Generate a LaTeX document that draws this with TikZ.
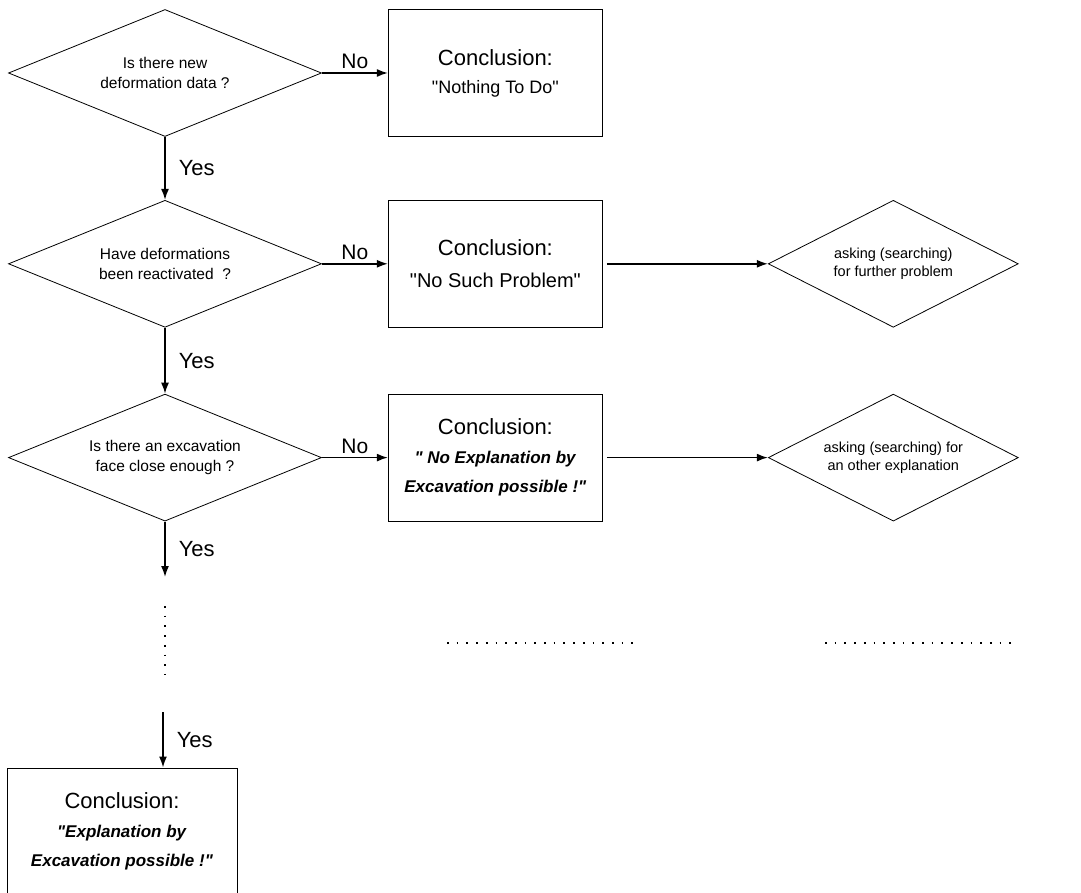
\documentclass[tikz,border=0pt]{standalone}
\usepackage{fontspec}
\setmainfont{Liberation Sans}
\usetikzlibrary{shapes.geometric,arrows.meta,positioning}
\tikzstyle{decision}=[diamond, aspect=2.46, draw, line width=0.8pt, minimum width=313pt, minimum height=127pt, inner sep=0pt, align=center, font=\fontsize{15.5}{20}\selectfont]
\tikzstyle{ask}=[decision, aspect=1.97, minimum width=250pt, font=\fontsize{14.5}{18}\selectfont]
\tikzstyle{block}=[draw, line width=1pt, minimum width=214pt, minimum height=127pt, inner sep=0pt, align=center]
\tikzstyle{arrow}=[line width=1.6pt,-{Latex[length=11pt,width=8pt]}]
\tikzstyle{dots}=[line width=1.7pt, dash pattern=on 1.7pt off 8pt]
\tikzstyle{lbl}=[font=\fontsize{21}{24}\selectfont, inner sep=3pt]
\tikzstyle{yes}=[lbl, right, font=\fontsize{22}{24}\selectfont, xshift=10pt]
\newcommand{\concl}{{\fontsize{22}{26}\selectfont Conclusion:}}
\newcommand{\qq}{\textquotedbl}
\newcommand{\quot}[1]{\textbf{\textit{#1}}}

\begin{document}
\begin{tikzpicture}[x=1pt,y=-1pt,node distance=66pt]
\useasboundingbox (0,0) rectangle (1081,893);
\node (q1) [decision] at (165,73) {Is there new\\deformation data ?};
\node (c1) [block, right=of q1, font=\fontsize{18}{28}\selectfont] {\concl\\\qq Nothing To Do\qq};
\node (q2) [decision, below=63pt of q1] {Have deformations\\been reactivated\ \ ?};
\node (c2) [block, right=of q2, font=\fontsize{20}{32}\selectfont] {\concl\\\qq No Such Problem\qq};
\node (a2) [ask, right=165pt of c2] {asking (searching)\\for further problem};
\node (q3) [decision, below=of q2] {Is there an excavation\\face close enough ?};
\node (c3) [block, right=of q3, font=\fontsize{17}{29}\selectfont] {\concl\\\quot{\qq\ No Explanation by}\\\quot{Excavation possible !\qq}};
\node (a3) [ask, right=165pt of c3] {asking (searching) for\\an other explanation};
\node (c4) [block, minimum width=230pt, minimum height=126pt, font=\fontsize{17}{29}\selectfont] at (122,831) {\concl\\\quot{\qq Explanation by}\\\quot{Excavation possible !\qq}};
\coordinate (y3) at (165,577);
\coordinate (v1) at (165,606);
\coordinate (v2) at (165,674);
\coordinate (h1) at (447,643);
\coordinate (h2) at (633,643);
\coordinate (h3) at (825,643);
\coordinate (h4) at (1012,643);
\coordinate (y4) at (163,712);
\draw[arrow] (q1) -- node[lbl,above]{No} (c1);
\draw[arrow] (q1) -- node[yes]{Yes} (q2);
\draw[arrow] (q2) -- node[lbl,above]{No} (c2);
\draw[arrow, shorten <=4pt] (c2) -- (a2);
\draw[arrow] (q2) -- node[yes]{Yes} (q3);
\draw[arrow] (q3) -- node[lbl,above]{No} (c3);
\draw[arrow, shorten <=4pt] (c3) -- (a3);
\draw[arrow] (q3) -- node[yes]{Yes} (y3);
\draw[dots] (v1) -- (v2);
\draw[dots] (h1) -- (h2);
\draw[dots] (h3) -- (h4);
\draw[arrow] (y4) -- node[yes]{Yes} (y4 |- c4.north);
\end{tikzpicture}
\end{document}
